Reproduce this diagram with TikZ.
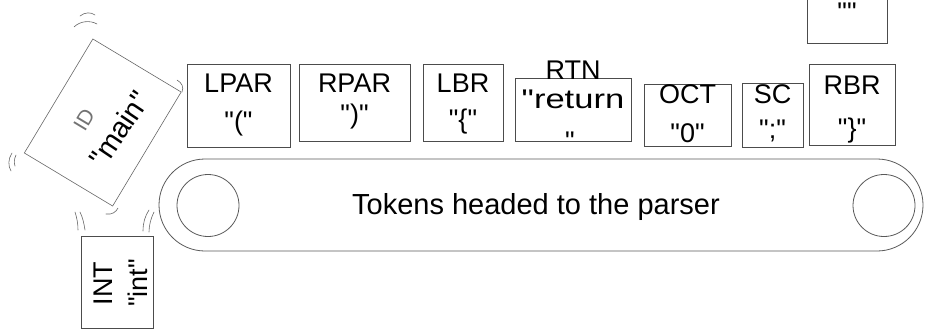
\documentclass[tikz,border=0pt]{standalone}
\usepackage{fontspec}
\setmainfont{Liberation Sans}[Ligatures=TeXOff]
\usetikzlibrary{fit}
\begin{document}
\begin{tikzpicture}[x=1pt,y=-1pt,
  tokbox/.style={draw=black!70, line width=0.8pt, rectangle, inner sep=0pt},
  toktext/.style={font=\fontsize{27}{32}\selectfont, inner sep=0pt, anchor=base, text=black},
  belt/.style={draw=black!65, line width=0.8pt},
  wobble/.style={draw=black!60, line width=0.6pt, line cap=round}]
\clip (0,0) rectangle (925,330);

% conveyor belt with its two pulleys
\node[belt, fit={(159,159)(923,251)}, rounded corners=46pt, inner sep=0pt] (belt) {};
\node[belt, circle, minimum size=62pt, inner sep=0pt] (pulleyL) at (208,205.5) {};
\node[belt, circle, minimum size=62pt, inner sep=0pt] (pulleyR) at (884,205.5) {};
\node[font=\fontsize{29}{34}\selectfont, anchor=base, inner sep=0pt] (beltlabel) at (536,214) {Tokens headed to the parser};

% tokens riding on the belt
\node[tokbox, fit={(187,64)(290,147)}] (lpar) {};
\node[toktext] (lparA) at (238.5,92) {LPAR};
\node[toktext] (lparB) at (238.5,130) {"("};

\node[tokbox, fit={(299,64)(410,141)}] (rpar) {};
\node[toktext] (rparA) at (354.5,92) {RPAR};
\node[toktext] (rparB) at (354.5,123) {")"};

\node[tokbox, fit={(423,64)(503,141)}] (lbr) {};
\node[toktext] (lbrA) at (463,92) {LBR};
\node[toktext] (lbrB) at (463,128) {"\{"};

\node[tokbox, fit={(515,78)(631,141)}] (rtn) {};
\node[toktext] (rtnA) at (573,79) {RTN};
\node[toktext, xscale=1.28] (rtnB) at (573,108) {"return};
\node[toktext] (rtnC) at (570,150) {"};

\node[tokbox, fit={(644,84)(731,146)}] (oct) {};
\node[toktext] (octA) at (687.5,103) {OCT};
\node[toktext] (octB) at (687.5,142) {"0"};

\node[tokbox, fit={(742,83)(803,147)}] (sc) {};
\node[toktext] (scA) at (772.5,103) {SC};
\node[toktext] (scB) at (772.5,138) {";"};

\node[tokbox, fit={(809,64)(895,145)}] (rbr) {};
\node[toktext] (rbrA) at (852,94) {RBR};
\node[toktext] (rbrB) at (852,137) {"\}"};

% token dropping in from above
\node[tokbox, fit={(807,-10)(887,43)}] (eof) {};
\node[toktext] (eofB) at (847,21) {""};

% tumbling identifier token
\node[tokbox, draw=black!60, line width=0.6pt, rotate=59, minimum width=133pt, minimum height=103pt] (ident) at (102.75,122.5) {};
\node[font=\fontsize{21}{26}\selectfont, text=black!55, rotate=59, inner sep=0pt] (identA) at (84,120) {ID};
\node[font=\fontsize{29}{34}\selectfont, rotate=56, inner sep=0pt] (identB) at (119,129) {"main"};

% keyword token landing on its side
\node[tokbox, fit={(81,236)(153,328)}] (int) {};
\node[toktext, rotate=90] (intA) at (112,283.5) {INT};
\node[toktext, rotate=90] (intB) at (147,283) {"int"};

% motion marks
\draw[wobble] (80,16) .. controls (85,12) and (91,12) .. (95,15);
\draw[wobble] (74,27) .. controls (80,21) and (90,20) .. (97,24);
\draw[wobble] (12,153) .. controls (8,159) and (8,166) .. (11,171);
\draw[wobble] (16,155) .. controls (14,159) and (14,163) .. (15,166);
\draw[wobble] (177,80) .. controls (182,83) and (184,87) .. (182,92);
\draw[wobble] (106,214) .. controls (112,215) and (116,212) .. (118,208);
\draw[wobble] (75,212) .. controls (77,218) and (78,224) .. (78,230);
\draw[wobble] (80,212) .. controls (83,218) and (84,224) .. (85,230);
\draw[wobble] (149,210) .. controls (145,216) and (143,223) .. (143,231);
\draw[wobble] (154,212) .. controls (151,218) and (149,225) .. (149,232);
\end{tikzpicture}
\end{document}
